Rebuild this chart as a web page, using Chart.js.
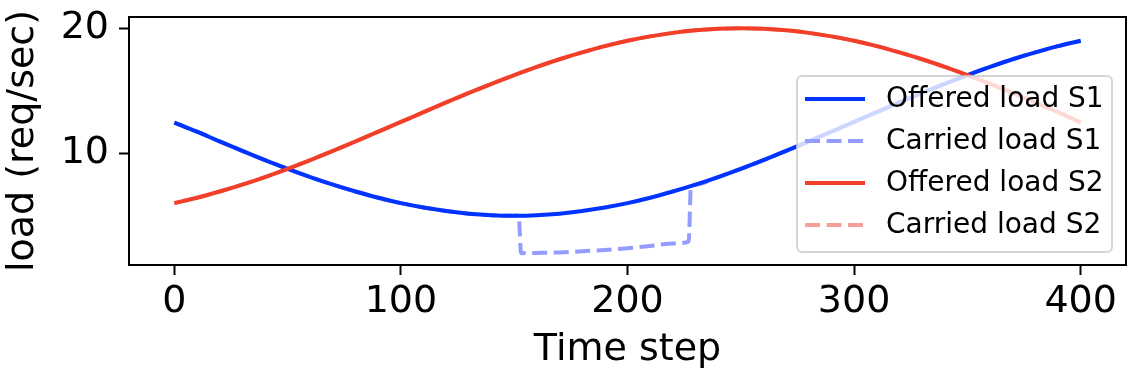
<!DOCTYPE html>
<html>
<head>
<meta charset="utf-8">
<script src="https://cdn.jsdelivr.net/npm/chart.js@4/dist/chart.umd.min.js"></script>
<style>
  html, body { margin: 0; padding: 0; background: #fff; }
  canvas { display: block; }
</style>
</head>
<body>
<canvas id="c" width="1142" height="378"></canvas>
<script>
// ---- data ----
const steps = [0,10,20,30,40,50,60,70,80,90,100,110,120,130,140,150,160,170,180,190,200,
               210,220,230,240,250,260,270,280,290,300,310,320,330,340,350,360,370,380,390,400];
const offeredS1 = [12.45,11.72,10.94,10.18,9.45,8.75,8.09,7.48,6.93,6.43,6.00,5.65,5.37,5.16,5.04,5.00,5.04,5.16,5.37,5.65,6.00,
                   6.43,6.93,7.48,8.09,8.75,9.45,10.18,10.94,11.72,12.50,13.28,14.06,14.82,15.55,16.25,16.91,17.52,18.07,18.57,19.00];
const offeredS2 = [6.00,6.43,6.93,7.48,8.09,8.75,9.45,10.18,10.94,11.72,12.50,13.28,14.06,14.82,15.55,16.25,16.91,17.52,18.07,18.57,19.00,
                   19.35,19.63,19.84,19.96,20.00,19.96,19.84,19.63,19.35,19.00,18.57,18.07,17.52,16.91,16.25,15.55,14.82,14.06,13.28,12.45];
const carriedS1Steps = [0,10,20,30,40,50,60,70,80,90,100,110,120,130,140,150,152,153,160,170,180,190,200,210,220,227,228,
                        230,240,250,260,270,280,290,300,310,320,330,340,350,360,370,380,390,400];
const carriedS1 = [12.45,11.72,10.94,10.18,9.45,8.75,8.09,7.48,6.93,6.43,6.00,5.65,5.37,5.16,5.04,5.00,5.01,2.00,2.02,2.06,2.15,2.26,2.40,2.57,2.77,2.92,7.37,
                   7.48,8.09,8.75,9.45,10.18,10.94,11.72,12.50,13.28,14.06,14.82,15.55,16.25,16.91,17.52,18.07,18.57,19.00];
const carriedS2 = offeredS2.slice();
const seriesLabels = ['Offered load S1','Carried load S1','Offered load S2','Carried load S2'];
const xTickValues = [0,100,200,300,400];
const yTickValues = [10,20];
const xTitle = 'Time step';
const yTitle = 'load (req/sec)';

// ---- styles ----
const FONT = 'DejaVu Sans';
const colors = ['#0033ff','#959cff','#f23f2a','#f5a099'];
const dashes = [[],[15,6.5],[],[15,6.5]];

function pts(xs, ys){ return xs.map((x,i)=>({x:x,y:ys[i]})); }

const dsData = [pts(steps,offeredS1), pts(carriedS1Steps,carriedS1), pts(steps,offeredS2), pts(steps,carriedS2)];
const drawOrder = [2,0,1,3];
const datasets = drawOrder.map(i => ({
  label: seriesLabels[i],
  data: dsData[i],
  borderColor: colors[i],
  backgroundColor: colors[i],
  borderWidth: 4,
  borderDash: dashes[i],
  pointRadius: 0,
  fill: false,
  cubicInterpolationMode: 'monotone',
  borderCapStyle: 'butt'
}));

const framePlugin = {
  id: 'frame',
  afterDatasetsDraw(chart){
    const {ctx, chartArea:a} = chart;
    ctx.save();
    ctx.strokeStyle = '#000';
    ctx.lineWidth = 2;
    ctx.strokeRect(a.left, a.top, a.right - a.left, a.bottom - a.top);
    const bx = 797, by = 76, bw = 315, bh = 176, r = 5;
    ctx.beginPath();
    ctx.moveTo(bx + r, by);
    ctx.arcTo(bx + bw, by, bx + bw, by + bh, r);
    ctx.arcTo(bx + bw, by + bh, bx, by + bh, r);
    ctx.arcTo(bx, by + bh, bx, by, r);
    ctx.arcTo(bx, by, bx + bw, by, r);
    ctx.closePath();
    ctx.fillStyle = 'rgba(255,255,255,0.8)';
    ctx.fill();
    ctx.strokeStyle = 'rgba(204,204,204,0.8)';
    ctx.lineWidth = 2;
    ctx.stroke();
    const rows = [99,141,183,225];
    ctx.font = '28px "' + FONT + '"';
    ctx.textBaseline = 'middle';
    ctx.textAlign = 'left';
    for (let i = 0; i < 4; i++){
      ctx.beginPath();
      ctx.setLineDash(dashes[i]);
      ctx.strokeStyle = colors[i];
      ctx.lineWidth = 4;
      ctx.moveTo(805, rows[i]);
      ctx.lineTo(865, rows[i]);
      ctx.stroke();
      ctx.setLineDash([]);
      ctx.fillStyle = '#000';
      ctx.fillText(seriesLabels[i], 886, rows[i] + 1);
    }
    ctx.restore();
  }
};

new Chart(document.getElementById('c'), {
  type: 'line',
  data: { datasets: datasets },
  options: {
    responsive: false,
    devicePixelRatio: 1,
    animation: false,
    layout: { padding: { left: 0, right: 16, top: 17, bottom: 0 } },
    plugins: { legend: { display: false }, tooltip: { enabled: false } },
    scales: {
      x: {
        type: 'linear',
        min: -20, max: 420,
        afterBuildTicks(s){ s.ticks = xTickValues.map(v => ({value: v})); },
        afterFit(s){ s.height = 113; s.paddingLeft = 0; s.paddingRight = 0; },
        ticks: { color: '#000', font: { family: FONT, size: 38 }, padding: 4, maxRotation: 0,
                 callback: v => String(v) },
        grid: { display: true, drawOnChartArea: false, drawTicks: true, tickLength: 10, tickWidth: 2, tickColor: '#000' },
        border: { display: false },
        title: { display: true, text: xTitle, color: '#000', font: { family: FONT, size: 38 }, padding: { top: 0, bottom: 5 } }
      },
      y: {
        type: 'linear',
        min: 1.05, max: 20.9,
        afterBuildTicks(s){ s.ticks = yTickValues.map(v => ({value: v})); },
        afterFit(s){ s.width = 129; s.paddingTop = 0; s.paddingBottom = 0; },
        ticks: { color: '#000', font: { family: FONT, size: 38 }, padding: 10, callback: v => String(v) },
        grid: { display: true, drawOnChartArea: false, drawTicks: true, tickLength: 10, tickWidth: 2, tickColor: '#000' },
        border: { display: false },
        title: { display: true, text: yTitle, color: '#000', font: { family: FONT, size: 38 }, padding: { top: 0, bottom: 6 } }
      }
    }
  },
  plugins: [framePlugin]
});
</script>
</body>
</html>
